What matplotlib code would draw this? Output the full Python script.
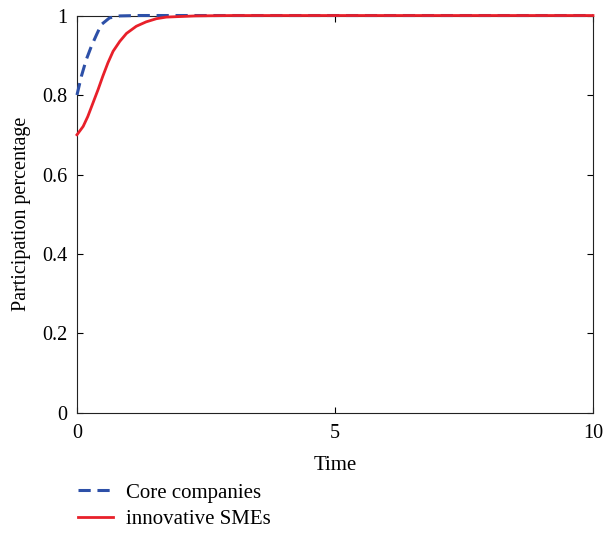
import matplotlib.pyplot as plt

plt.rcParams['font.family'] = ['Liberation Serif', 'DejaVu Serif']

# values
t_core = [0, 0.085, 0.18, 0.28, 0.38, 0.47, 0.63, 0.83, 1.2, 2, 5, 10]
y_core = [0.80, 0.847, 0.889, 0.923, 0.952, 0.977, 0.994, 0.999, 1.0, 1.0, 1.0, 1.0]

t_sme = [0, 0.12, 0.21, 0.31, 0.41, 0.50, 0.60, 0.70, 0.83, 0.96, 1.15, 1.34, 1.54, 1.73,
         2.3, 3, 5, 10]
y_sme = [0.70, 0.721, 0.746, 0.780, 0.814, 0.847, 0.881, 0.910, 0.935, 0.955, 0.973,
         0.984, 0.992, 0.996, 0.999, 1.0, 1.0, 1.0]

xticks = [0, 5, 10]
yticks = [0, 0.2, 0.4, 0.6, 0.8, 1]

fig = plt.figure(figsize=(6.08, 5.56), dpi=100)
ax = fig.add_axes([0.1266, 0.2572, 0.8487, 0.7149])

ax.plot(t_core, y_core, '--', color='#2d50a8', lw=2.2, dashes=(4, 2.2),
        label='Core companies', clip_on=False, zorder=3)
ax.plot(t_sme, y_sme, '-', color='#e8202a', lw=2, label='innovative SMEs',
        clip_on=False, zorder=4)

ax.set_xlim(0, 10)
ax.set_ylim(0, 1)
ax.set_xticks(xticks)
ax.set_yticks(yticks)
ax.set_yticklabels(['0', '0.2', '0.4', '0.6', '0.8', '1'])
ax.tick_params(direction='in', top=True, right=True, length=4, labelsize=14.5)
ax.tick_params(axis='x', pad=8)
ax.tick_params(axis='y', pad=7)
for s in ax.spines.values():
    s.set_color('#222222')
    s.set_zorder(2)
ax.set_xlabel('Time', fontsize=15, labelpad=9)
ax.set_ylabel('Participation percentage', fontsize=14.5, labelpad=8)

fig.legend(loc='upper left', bbox_to_anchor=(0.097, 0.165), frameon=False, fontsize=15,
           handlelength=1.7, handletextpad=0.6, labelspacing=0.35)

fig.savefig('out.png', dpi=100)
